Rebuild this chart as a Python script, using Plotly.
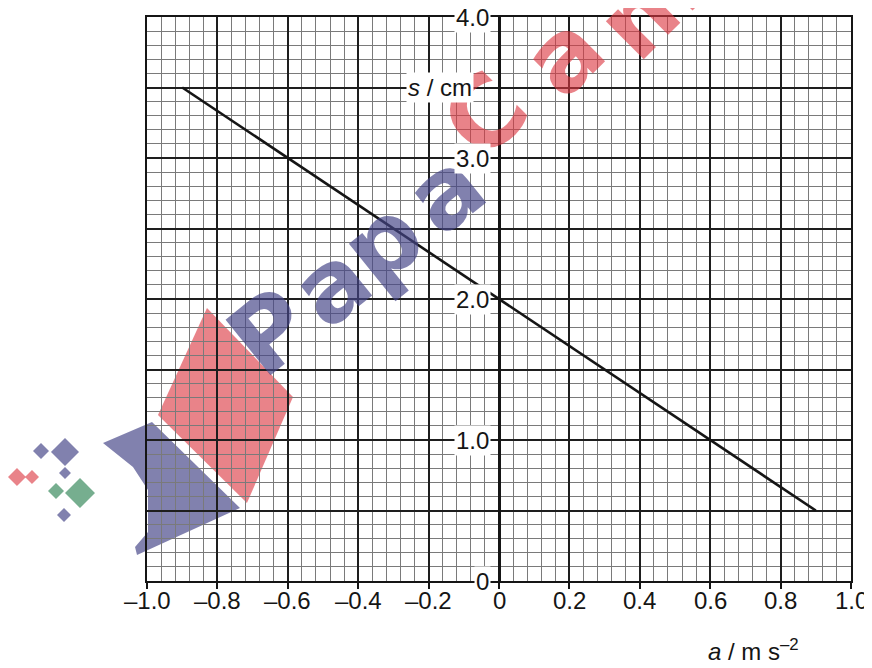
import plotly.graph_objects as go

# ---- data ----
a_vals = [-0.9, 0.9]          # a / m s^-2
s_vals = [3.5, 0.5]           # s / cm

x_tick_vals = [-1.0, -0.8, -0.6, -0.4, -0.2, 0.0, 0.2, 0.4, 0.6, 0.8, 1.0]
x_tick_text = ["–1.0", "–0.8", "–0.6", "–0.4", "–0.2", "0", "0.2", "0.4", "0.6", "0.8", "1.0"]
y_tick_vals = [0, 1, 2, 3, 4]
y_tick_text = ["0", "1.0", "2.0", "3.0", "4.0"]

FONT = "Liberation Sans, Arial, Helvetica, sans-serif"
INK = "#151515"

fig = go.Figure()
fig.add_trace(go.Scatter(x=a_vals, y=s_vals, mode="lines",
                         line=dict(color=INK, width=2.6), hoverinfo="skip"))

# plot area in screen pixels (page has an 8px body margin)
L, R, T, B = 147, 851, 17, 581
OFF = 8
W, H = 872, 668

def pp(px, py):
    return ((px - L) / (R - L), (B - py) / (B - T))

def path(points):
    pts = [pp(*p) for p in points]
    return "M " + " L ".join(f"{x:.4f},{y:.4f}" for x, y in pts) + " Z"

def diamond(cx, cy, r):
    return path([(cx, cy - r), (cx + r, cy), (cx, cy + r), (cx - r, cy)])

# ---- watermark (decoration) ----
BLUE = "rgba(70,70,135,0.68)"
RED = "rgba(220,55,65,0.62)"
GREEN = "rgba(60,140,95,0.7)"

shapes = []
shapes.append(dict(type="path", xref="paper", yref="paper", layer="below",
                   path=path([(207, 308), (293, 397), (247, 503), (158, 415)]),
                   fillcolor=RED, line=dict(width=0)))
shapes.append(dict(type="path", xref="paper", yref="paper", layer="below",
                   path=path([(103, 443), (152, 422), (240, 508), (137, 555), (135, 547),
                              (148, 532), (148, 490), (133, 467)]),
                   fillcolor=BLUE, line=dict(width=0)))
for (cx, cy, r, col) in [(41, 451, 8, BLUE), (65, 452, 14, BLUE), (65, 473, 6, BLUE),
                          (17, 477, 9, RED), (32, 477, 7, RED), (56, 491, 8, GREEN),
                          (80, 493, 15, GREEN), (64, 515, 7, BLUE)]:
    shapes.append(dict(type="path", xref="paper", yref="paper", layer="below",
                       path=diamond(cx, cy, r), fillcolor=col, line=dict(width=0)))

annotations = []
for ch, px, py, col, ang in [("P", 270, 332, BLUE, -39), ("a", 331, 285, BLUE, -39),
                              ("p", 382, 242, BLUE, -39), ("a", 445, 192, BLUE, -39),
                              ("C", 485, 115, RED, -45), ("a", 563, 55, RED, -45),
                              ("m", 650, 5, RED, -45)]:
    x, y = pp(px, py)
    annotations.append(dict(xref="paper", yref="paper", x=x, y=y, text=f"<b>{ch}</b>",
                            xanchor="center", yanchor="middle",
                            showarrow=False, textangle=ang,
                            font=dict(family="DejaVu Sans, " + FONT, size=98, color=col)))

# x tick labels below the frame
for v, t in zip(x_tick_vals, x_tick_text):
    annotations.append(dict(xref="x", yref="paper", x=v, y=0, text=t, showarrow=False,
                            xanchor="center", yanchor="middle", yshift=-19,
                            font=dict(family=FONT, size=24, color=INK)))

# y tick labels placed at the a = 0 axis
for v, t in zip(y_tick_vals, y_tick_text):
    annotations.append(dict(xref="x", yref="y", x=0, y=v, text=t, showarrow=False,
                            xanchor="right", yanchor="middle", xshift=-8,
                            bgcolor="white", borderpad=1,
                            font=dict(family=FONT, size=24, color=INK)))

annotations.append(dict(xref="x", yref="y", x=0, y=3.5,
                        text="<i>s</i> / cm", showarrow=False,
                        xanchor="right", yanchor="middle", xshift=-25,
                        bgcolor="white", borderpad=1,
                        font=dict(family=FONT, size=24, color=INK)))
annotations.append(dict(xref="paper", yref="paper", x=0.862, y=-0.122,
                        text="<i>a</i> / m s<sup>–2</sup>", showarrow=False,
                        xanchor="center", yanchor="middle",
                        font=dict(family=FONT, size=24, color=INK)))

fig.update_layout(
    width=W, height=H,
    margin=dict(l=L - OFF, r=W - (R - OFF), t=T - OFF, b=H - (B - OFF), autoexpand=False),
    paper_bgcolor="white", plot_bgcolor="white",
    showlegend=False,
    shapes=shapes, annotations=annotations,
    xaxis=dict(range=[-1.0, 1.0], tickmode="linear", tick0=0, dtick=0.2,
               showticklabels=False, automargin=False,
               ticks="outside", ticklen=6, tickwidth=2, tickcolor=INK,
               showgrid=True, gridcolor="#1e1e1e", gridwidth=1.6,
               minor=dict(tickmode="linear", tick0=0, dtick=0.04, showgrid=True,
                          gridcolor="#7a7a7a", gridwidth=1),
               zeroline=True, zerolinecolor=INK, zerolinewidth=2.6,
               showline=True, linecolor=INK, linewidth=2, mirror=True),
    yaxis=dict(range=[0, 4], tickmode="linear", tick0=0, dtick=0.5,
               showticklabels=False, ticks="", automargin=False,
               showgrid=True, gridcolor="#1e1e1e", gridwidth=1.6,
               minor=dict(tickmode="linear", tick0=0, dtick=0.1, showgrid=True,
                          gridcolor="#7a7a7a", gridwidth=1),
               zeroline=False,
               showline=True, linecolor=INK, linewidth=2, mirror=True),
)

fig.write_html("out.html")
